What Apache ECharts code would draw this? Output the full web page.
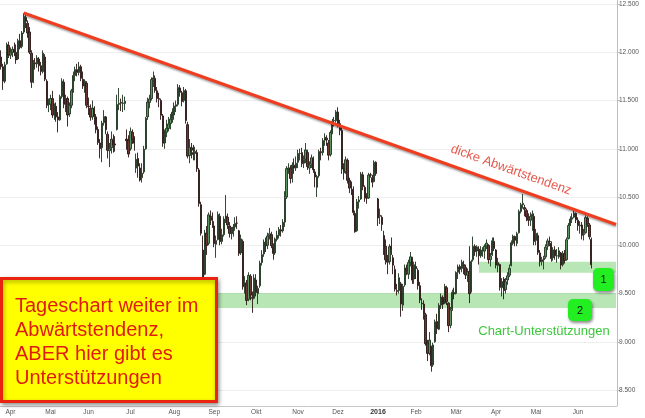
<!DOCTYPE html>
<html><head><meta charset="utf-8">
<script src="https://cdn.jsdelivr.net/npm/echarts@6/dist/echarts.min.js"></script>
<style>html,body{margin:0;padding:0;background:#fff}#c{width:645px;height:418px}</style>
</head><body><div id="c"></div>
<script>
// month label + number of trading days shown on the axis
const months = [['',5],['Apr',21],['Mai',20],['Jun',22],['Jul',23],['Aug',21],['Sep',22],['Okt',22],['Nov',21],['Dez',21],['2016',20],['Feb',21],['Mär',21],['Apr',21],['Mai',22],['Jun',21]];
// y tick labels
const yTicks = {min: 8500, max: 12500, step: 500};
// daily candles [open, close, low, high]
const candles = [
// Mär 2015
[11950,11850,11820,12020],[11850,11700,11610,11880],[11700,11870,11680,11900],[11880,12080,11870,12100],[12070,11970,11940,12110],
// Apr
[11970,12000,11930,12050],[12000,12030,11950,12060],[12030,12000,11960,12100],[12000,11920,11880,12080],[11930,12120,11920,12140],
[12120,12050,12030,12190],[12060,12200,12040,12220],[12210,12370,12190,12405],[12360,12320,12250,12390],[12300,12200,12150,12330],
[12210,12000,11980,12260],[11990,11690,11630,12020],[11700,11890,11680,11920],[11890,11880,11820,11940],[11880,11940,11840,11970],
[11930,11860,11800,11950],[11860,11800,11760,11900],[11800,11990,11780,12020],[11950,11720,11700,11980],[11700,11450,11420,11720],
[11460,11470,11380,11520],
// Mai
[11460,11520,11400,11560],[11520,11350,11320,11600],[11350,11440,11300,11470],[11440,11330,11280,11480],[11330,11300,11170,11380],
[11300,11540,11290,11560],[11540,11700,11520,11730],[11690,11460,11420,11720],[11460,11520,11380,11560],[11520,11350,11230,11540],
[11360,11450,11330,11480],[11450,11600,11420,11620],[11600,11760,11580,11800],[11760,11820,11700,11850],[11820,11790,11750,11880],
[11790,11850,11760,11900],[11850,11730,11700,11870],[11720,11650,11620,11800],[11650,11700,11580,11720],[11680,11450,11420,11700],
// Jun
[11440,11436,11350,11530],[11420,11328,11290,11460],[11330,11419,11300,11500],[11420,11340,11250,11440],[11330,11197,11160,11360],
[11200,11064,11040,11230],[11060,11001,10900,11100],[11010,11265,10860,11290],[11270,11333,11240,11400],[11330,11197,11150,11340],
[11150,10984,10900,11180],[10980,11002,10810,11060],[11010,11100,10950,11180],[11090,11040,10960,11150],[11050,11040,10970,11130],
[11200,11460,11190,11560],[11460,11471,11400,11630],[11480,11472,11390,11520],[11470,11473,11380,11560],[11470,11492,11400,11540],
[11100,11083,10990,11200],[11090,10945,10910,11140],
// Jul
[11000,11180,10980,11220],[11170,11099,11050,11200],[11100,11058,10980,11130],[10800,10890,10750,10950],[10900,10820,10700,10960],
[10800,10676,10660,10850],[10700,10747,10650,10850],[10760,10996,10740,11030],[11000,11315,10990,11330],[11330,11484,11300,11530],
[11480,11516,11420,11560],[11520,11717,11500,11740],[11720,11734,11640,11800],[11730,11604,11580,11760],[11600,11520,11480,11640],
[11520,11512,11430,11580],[11500,11347,11300,11520],[11340,11057,11020,11360],[11060,11173,11000,11200],[11170,11211,11120,11300],
[11210,11257,11180,11330],[11260,11308,11200,11360],[11310,11380,11270,11420],
// Aug
[11350,11443,11300,11480],[11440,11456,11380,11500],[11460,11636,11440,11670],[11630,11585,11540,11660],[11580,11490,11440,11600],
[11500,11604,11480,11640],[11600,11293,11260,11620],[11250,10924,10900,11280],[10930,11014,10850,11100],[11010,10985,10900,11060],
[10960,10940,10880,11040],[10950,10972,10880,11020],[10960,10793,10760,10990],[10780,10432,10400,10800],[10420,10124,10100,10450],
[9950,9648,9338,10100],[9700,10128,9690,10160],[10120,9997,9900,10200],[10020,10315,10000,10340],[10300,10298,10210,10360],
[10290,10259,10180,10340],
// Sep
[10200,10016,9980,10250],[10010,10048,9870,10100],[10060,10318,10050,10350],[10300,10038,10000,10330],[10040,10108,10010,10170],
[10110,10271,10090,10300],[10280,10303,10230,10520],[10290,10210,10170,10330],[10200,10123,10080,10240],[10120,10131,10060,10190],
[10130,10188,10090,10220],[10190,10227,10150,10290],[10230,10229,10170,10300],[10150,9916,9890,10160],[9920,10066,9900,10110],
[10040,9570,9540,10060],[9570,9612,9500,9680],[9600,9428,9380,9640],[9440,9688,9420,9720],[9680,9483,9430,9700],
[9460,9450,9300,9520],[9450,9660,9440,9700],
// Okt
[9640,9509,9470,9700],[9500,9553,9390,9580],[9580,9814,9560,9840],[9820,9902,9790,9950],[9910,10033,9880,10060],
[10020,9993,9930,10080],[10000,10096,9960,10130],[10100,10119,10060,10180],[10110,9995,9970,10140],[9990,9915,9850,10020],
[9920,10064,9900,10080],[10060,10104,10040,10150],[10100,10164,10070,10190],[10160,10147,10090,10210],[10150,10238,10130,10270],
[10240,10491,10190,10560],[10500,10794,10480,10820],[10790,10801,10740,10850],[10800,10692,10640,10830],[10700,10831,10650,10860],
[10830,10800,10740,10900],[10800,10850,10770,10920],
// Nov
[10860,10950,10800,10990],[10950,10951,10880,11000],[10960,10845,10810,11010],[10850,10887,10800,10930],[10890,10988,10850,11060],
[10960,10815,10780,10990],[10800,10832,10740,10870],[10840,10907,10800,10940],[10900,10783,10750,10920],[10760,10708,10600,10790],
[10600,10713,10500,10730],[10720,10971,10700,10990],[10970,10959,10880,11010],[10960,11085,10930,11110],[11090,11119,11030,11160],
[11110,11092,11030,11140],[11060,10933,10880,11090],[10940,11169,10920,11190],[11170,11285,11150,11310],[11290,11293,11230,11330],
[11290,11382,11270,11400],
// Dez
[11380,11261,11220,11430],[11260,11190,11140,11300],[11190,10789,10740,11230],[10800,10752,10680,10850],[10760,10886,10740,10920],
[10880,10673,10640,10900],[10670,10592,10540,10700],[10600,10598,10520,10660],[10580,10340,10310,10610],[10330,10139,10130,10360],
[10150,10450,10140,10480],[10450,10469,10380,10510],[10480,10738,10470,10760],[10730,10608,10570,10760],[10600,10497,10450,10620],
[10500,10488,10430,10540],[10490,10727,10480,10750],[10730,10727,10700,10750],[10700,10653,10600,10730],[10660,10860,10650,10880],
[10860,10743,10720,10870],
// Jan 2016
[10480,10283,10200,10490],[10300,10310,10220,10380],[10290,10214,10150,10310],[10100,9979,9900,10150],[9990,9849,9800,10060],
[9850,9825,9700,9900],[9830,9985,9800,10010],[9990,9960,9900,10080],[9870,9794,9700,9900],[9750,9545,9520,9790],
[9530,9521,9480,9600],[9530,9664,9500,9710],[9600,9391,9260,9620],[9380,9574,9320,9600],[9590,9764,9570,9800],
[9760,9736,9690,9800],[9700,9822,9650,9850],[9820,9880,9780,9930],[9870,9639,9600,9880],[9650,9798,9600,9830],
// Feb
[9780,9757,9650,9830],[9740,9581,9540,9760],[9580,9434,9400,9620],[9400,9393,9330,9450],[9390,9286,9230,9430],
[9280,8979,8960,9300],[8990,8879,8800,9020],[8880,9017,8860,9100],[8950,8752,8690,8960],[8760,8967,8740,8990],
[9000,9206,8990,9230],[9210,9135,9080,9290],[9130,9377,9120,9400],[9380,9463,9340,9500],[9460,9388,9340,9480],
[9400,9573,9390,9600],[9560,9416,9380,9580],[9400,9167,9100,9410],[9170,9331,9140,9360],[9340,9513,9320,9540],
[9510,9495,9440,9560],
// Mär
[9500,9717,9490,9730],[9720,9776,9650,9800],[9780,9751,9700,9800],[9760,9824,9720,9850],[9800,9778,9700,9840],
[9770,9692,9650,9800],[9690,9723,9620,9760],[9730,9498,9400,9990],[9520,9831,9510,9850],[9850,9990,9830,10090],
[9990,9933,9890,10010],[9940,9983,9880,10000],[9960,9892,9800,9990],[9890,9950,9870,9990],[9940,9948,9880,9980],
[9940,9990,9860,10010],[9990,10022,9960,10060],[10000,9851,9810,10010],[9850,9887,9780,9920],[9900,10046,9890,10080],
[10040,9966,9940,10080],
// Apr
[9950,9794,9760,9960],[9790,9822,9720,9870],[9800,9563,9530,9810],[9560,9624,9470,9660],[9650,9530,9440,9670],
[9540,9622,9500,9660],[9640,9683,9590,9720],[9690,9761,9670,9800],[9790,10026,9780,10050],[10020,10094,10000,10110],
[10090,10051,9990,10100],[10020,10120,9990,10140],[10130,10350,10120,10370],[10350,10421,10330,10440],[10420,10435,10380,10530],
[10390,10373,10300,10420],[10360,10294,10250,10380],[10290,10260,10200,10330],[10260,10299,10200,10340],[10300,10321,10150,10360],
[10300,10039,10000,10330],
// Mai
[10050,10123,10000,10170],[10100,9926,9900,10130],[9920,9828,9780,9950],[9830,9851,9790,9880],[9850,9870,9750,9890],
[9880,9980,9860,10010],[9990,10045,9950,10070],[10040,10037,9990,10090],[10020,9862,9830,10040],[9870,9952,9840,9980],
[9950,9890,9850,9990],[9890,9891,9820,9960],[9880,9943,9860,9980],[9920,9795,9750,9930],[9800,9916,9780,9940],
[9910,9842,9810,9950],[9850,10057,9840,10080],[10070,10205,10060,10230],[10210,10272,10200,10300],[10270,10286,10230,10330],
[10290,10333,10280,10370],[10330,10263,10230,10340],
// Jun
[10260,10204,10150,10290],[10200,10208,10120,10250],[10210,10103,10060,10240],[10110,10121,10050,10170],[10130,10287,10120,10310],
[10280,10217,10190,10300],[10210,10088,10060,10230],[10060,9797.3,9760,10080]
];
// trend line: [category index, price]
const trendStart = [12, 12407];
const trendEnd = [323, 10215];
// support bands: [from index, to index, low, high]
const bands = [[251, 323, 9715, 9830], [0, 323, 9350, 9506]];
const lastPrice = 9797.3;
const lastPriceLabel = '9.797,3';

const categories = [];
const startLabel = {};
months.forEach(([lab, n], mi) => {
  for (let d = 0; d < n; d++) {
    const name = 'm' + mi + 'd' + d;
    if (d === 0 && lab) startLabel[name] = lab;
    categories.push(name);
  }
});

const FONT = '"Liberation Sans", Arial, Helvetica, sans-serif';
const fmtY = v => Math.floor(v / 1000) + '.' + String(v % 1000).padStart(3, '0');

const chart = echarts.init(document.getElementById('c'), null, {renderer: 'canvas'});
chart.setOption({
  animation: false,
  backgroundColor: '#fff',
  textStyle: {fontFamily: FONT},
  grid: {left: 0, right: 28, top: 4, bottom: 28, containLabel: false},
  xAxis: {
    type: 'category', data: categories, boundaryGap: true, offset: 16,
    axisLine: {lineStyle: {color: '#c8c8c8'}},
    axisTick: {show: false},
    splitLine: {show: false},
    axisLabel: {
      interval: (i, v) => !!startLabel[v],
      formatter: v => startLabel[v] === '2016' ? '{b|2016}' : (startLabel[v] || ''),
      fontSize: 6.5, color: '#555', margin: 3, fontFamily: FONT,
      rich: {b: {fontWeight: 'bold', fontSize: 7, color: '#333', fontFamily: FONT}}
    }
  },
  yAxis: {
    type: 'value', position: 'right', min: yTicks.min, max: yTicks.max, interval: yTicks.step,
    axisLine: {show: false},
    axisTick: {show: true, length: 3, lineStyle: {color: '#bbb'}},
    axisLabel: {fontSize: 6.5, color: '#555', margin: 2, formatter: fmtY, fontFamily: FONT},
    splitLine: {lineStyle: {color: '#eeeeee'}}
  },
  series: [{
    type: 'candlestick',
    data: candles,
    barWidth: 1.8,
    itemStyle: {
      color: '#5a9560', color0: '#6e3434',
      borderColor: '#1f331f', borderColor0: '#2a1616', borderWidth: 0.9
    },
    markArea: {
      silent: true,
      itemStyle: {color: 'rgba(100,200,90,0.45)'},
      data: bands.map(b => [{coord: [categories[b[0]], b[3]]}, {coord: [categories[b[1]], b[2]]}])
    },
    markLine: {
      silent: true, symbol: 'none',
      data: [
        [{coord: [categories[trendStart[0]], trendStart[1]],
          lineStyle: {color: '#ee3d1f', width: 3, type: 'solid', shadowBlur: 2, shadowOffsetY: 1.5, shadowColor: 'rgba(0,0,0,0.35)'},
          label: {show: false}},
         {coord: [categories[trendEnd[0]], trendEnd[1]]}],
        {yAxis: lastPrice, lineStyle: {opacity: 0},
         label: {show: true, position: 'end', formatter: lastPriceLabel, distance: 2,
                 backgroundColor: '#f5d44a', color: '#333', fontSize: 6.5, padding: [1, 2], fontFamily: FONT}}
      ]
    }
  }],
  graphic: [
    {type: 'line', shape: {x1: 617.5, y1: 0, x2: 617.5, y2: 406}, style: {stroke: '#bdbdbd', lineWidth: 1}, z: 5},
    {type: 'rect', shape: {x: 1.5, y: 278.5, width: 215, height: 123},
     style: {fill: '#ffff00', stroke: '#e8230f', lineWidth: 3, shadowBlur: 4, shadowOffsetX: 1, shadowOffsetY: 2, shadowColor: 'rgba(0,0,0,0.35)'}, z: 10},
    {type: 'text', x: 15, y: 294, z: 11,
     style: {text: 'Tageschart weiter im\nAbwärtstendenz,\nABER hier gibt es\nUnterstützungen',
             font: '20px ' + FONT, fill: '#e01c10', lineHeight: 24, align: 'left', verticalAlign: 'top'}},
    {type: 'text', x: 511, y: 170, rotation: -0.344, z: 11,
     style: {text: 'dicke Abwärtstendenz', font: '13px ' + FONT, fill: '#e6594c', align: 'center', verticalAlign: 'middle'}},
    {type: 'text', x: 544, y: 331.5, z: 11,
     style: {text: 'Chart-Unterstützungen', font: '13px ' + FONT, fill: '#3cc83c', align: 'center', verticalAlign: 'middle'}},
    {type: 'rect', shape: {x: 593, y: 268, width: 21, height: 23, r: 5}, z: 11,
     style: {fill: '#22ee22', shadowBlur: 3, shadowOffsetX: 1, shadowOffsetY: 2, shadowColor: 'rgba(0,0,0,0.45)'}},
    {type: 'text', x: 603.5, y: 279.5, z: 12,
     style: {text: '1', font: '11px ' + FONT, fill: '#111', align: 'center', verticalAlign: 'middle'}},
    {type: 'rect', shape: {x: 568, y: 299, width: 24, height: 22, r: 5}, z: 11,
     style: {fill: '#22ee22', shadowBlur: 3, shadowOffsetX: 1, shadowOffsetY: 2, shadowColor: 'rgba(0,0,0,0.45)'}},
    {type: 'text', x: 580, y: 310.5, z: 12,
     style: {text: '2', font: '11px ' + FONT, fill: '#111', align: 'center', verticalAlign: 'middle'}}
  ]
});
</script>
</body></html>
